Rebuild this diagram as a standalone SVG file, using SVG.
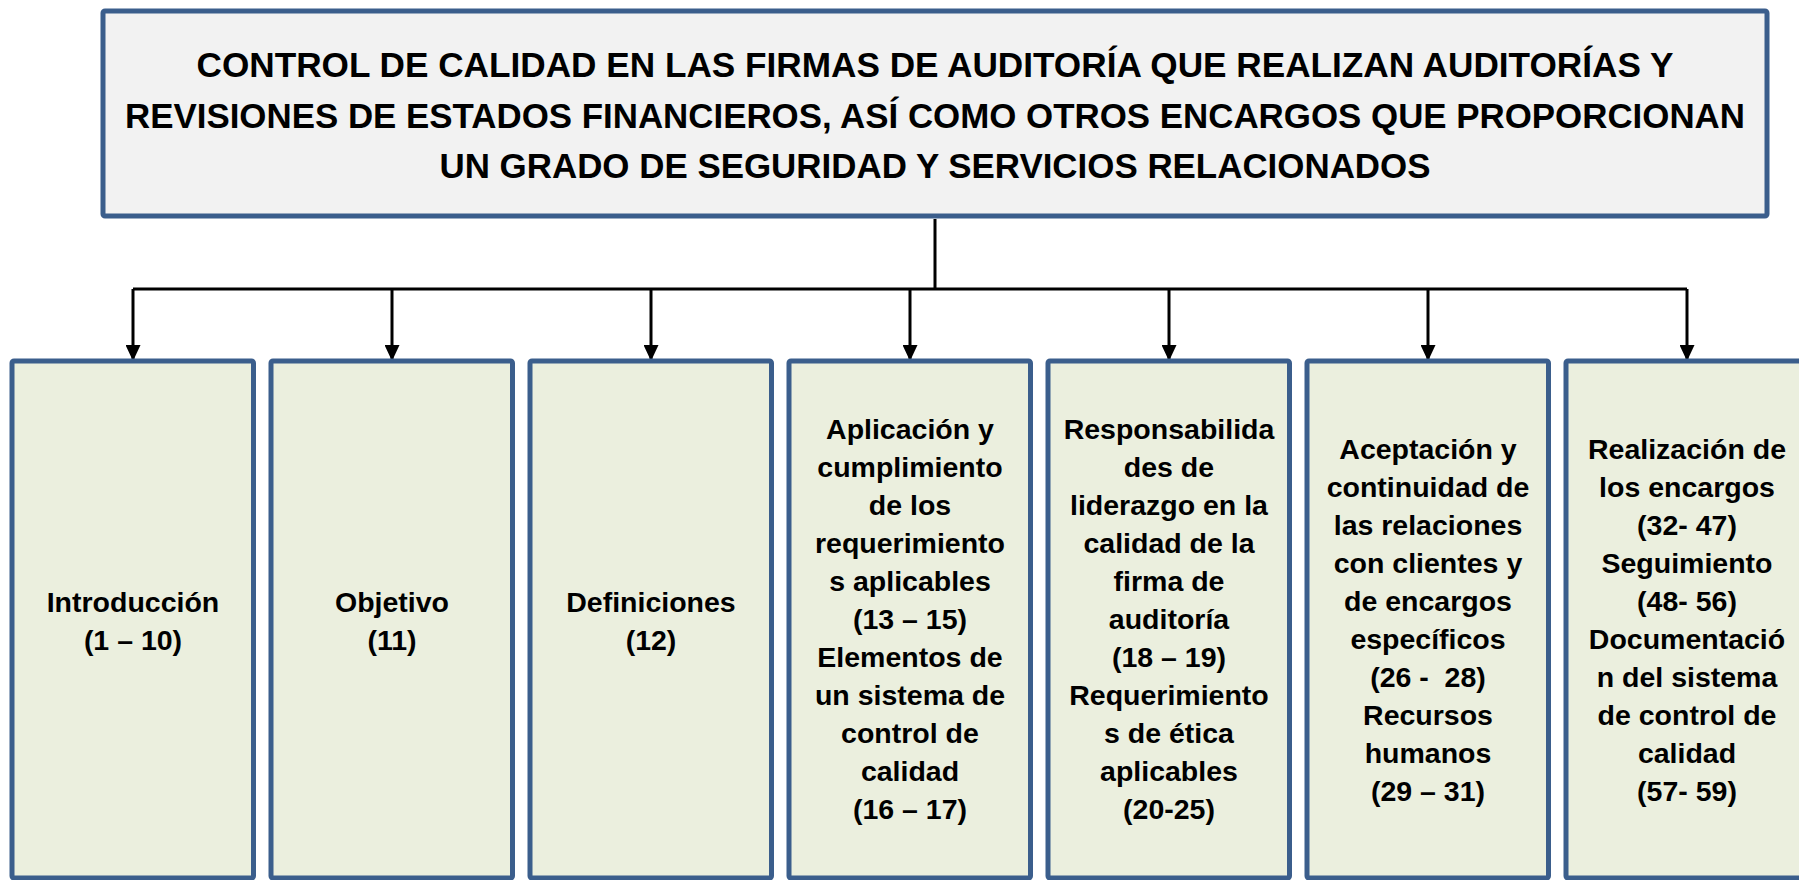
<svg xmlns="http://www.w3.org/2000/svg" width="1799" height="880" viewBox="0 0 1799 880">
<defs>
<style>
.title{fill:#F2F2F2;stroke:#3B5E8C;stroke-width:5}
.box{fill:#EBEFDE;stroke:#3B5E8C;stroke-width:5}
.tt{font-family:"Liberation Sans",Arial,sans-serif;font-weight:bold;font-size:35.5px;fill:#000;text-anchor:middle}
.bt{font-family:"Liberation Sans",Arial,sans-serif;font-weight:bold;font-size:28.5px;fill:#000;text-anchor:middle;white-space:pre}
.conn{stroke:#000;stroke-width:3;fill:none}
</style>
<marker id="arr" markerUnits="userSpaceOnUse" markerWidth="16" markerHeight="15" refX="16" refY="7.5" orient="auto">
<path d="M0,0 L16,7.5 L0,15 z" fill="#000"/>
</marker>
</defs>
<rect width="1799" height="880" fill="#FFFFFF"/>
<g id="connectors">
<path class="conn" d="M935,219 V289 M133,289 H1687"/>
<path class="conn" marker-end="url(#arr)" d="M133,289 V361"/>
<path class="conn" marker-end="url(#arr)" d="M392,289 V361"/>
<path class="conn" marker-end="url(#arr)" d="M651,289 V361"/>
<path class="conn" marker-end="url(#arr)" d="M910,289 V361"/>
<path class="conn" marker-end="url(#arr)" d="M1169,289 V361"/>
<path class="conn" marker-end="url(#arr)" d="M1428,289 V361"/>
<path class="conn" marker-end="url(#arr)" d="M1687,289 V361"/>
</g>
<g id="title">
<rect class="title" x="103" y="11" width="1664" height="205" rx="2"/>
<text class="tt" x="935" y="77" textLength="1477" lengthAdjust="spacingAndGlyphs">CONTROL DE CALIDAD EN LAS FIRMAS DE AUDITORÍA QUE REALIZAN AUDITORÍAS Y</text>
<text class="tt" x="935" y="128" textLength="1620" lengthAdjust="spacingAndGlyphs">REVISIONES DE ESTADOS FINANCIEROS, ASÍ COMO OTROS ENCARGOS QUE PROPORCIONAN</text>
<text class="tt" x="935" y="178" textLength="991" lengthAdjust="spacingAndGlyphs">UN GRADO DE SEGURIDAD Y SERVICIOS RELACIONADOS</text>
</g>
<g id="introduccion">
<rect class="box" x="12" y="361" width="241.5" height="517" rx="2"/>
<text class="bt" x="133" y="612">Introducción</text>
<text class="bt" x="133" y="650">(1 – 10)</text>
</g>
<g id="objetivo">
<rect class="box" x="271" y="361" width="241.5" height="517" rx="2"/>
<text class="bt" x="392" y="612">Objetivo</text>
<text class="bt" x="392" y="650">(11)</text>
</g>
<g id="definiciones">
<rect class="box" x="530" y="361" width="241.5" height="517" rx="2"/>
<text class="bt" x="651" y="612">Definiciones</text>
<text class="bt" x="651" y="650">(12)</text>
</g>
<g id="aplicacion">
<rect class="box" x="789" y="361" width="241.5" height="517" rx="2"/>
<text class="bt" x="910" y="439">Aplicación y</text>
<text class="bt" x="910" y="477">cumplimiento</text>
<text class="bt" x="910" y="515">de los</text>
<text class="bt" x="910" y="553">requerimiento</text>
<text class="bt" x="910" y="591">s aplicables</text>
<text class="bt" x="910" y="629">(13 – 15)</text>
<text class="bt" x="910" y="667">Elementos de</text>
<text class="bt" x="910" y="705">un sistema de</text>
<text class="bt" x="910" y="743">control de</text>
<text class="bt" x="910" y="781">calidad</text>
<text class="bt" x="910" y="819">(16 – 17)</text>
</g>
<g id="responsabilidades">
<rect class="box" x="1048" y="361" width="241.5" height="517" rx="2"/>
<text class="bt" x="1169" y="439">Responsabilida</text>
<text class="bt" x="1169" y="477">des de</text>
<text class="bt" x="1169" y="515">liderazgo en la</text>
<text class="bt" x="1169" y="553">calidad de la</text>
<text class="bt" x="1169" y="591">firma de</text>
<text class="bt" x="1169" y="629">auditoría</text>
<text class="bt" x="1169" y="667">(18 – 19)</text>
<text class="bt" x="1169" y="705">Requerimiento</text>
<text class="bt" x="1169" y="743">s de ética</text>
<text class="bt" x="1169" y="781">aplicables</text>
<text class="bt" x="1169" y="819">(20-25)</text>
</g>
<g id="aceptacion">
<rect class="box" x="1307" y="361" width="241.5" height="517" rx="2"/>
<text class="bt" x="1428" y="459">Aceptación y</text>
<text class="bt" x="1428" y="497">continuidad de</text>
<text class="bt" x="1428" y="535">las relaciones</text>
<text class="bt" x="1428" y="573">con clientes y</text>
<text class="bt" x="1428" y="611">de encargos</text>
<text class="bt" x="1428" y="649">específicos</text>
<text class="bt" x="1428" y="687">(26 -  28)</text>
<text class="bt" x="1428" y="725">Recursos</text>
<text class="bt" x="1428" y="763">humanos</text>
<text class="bt" x="1428" y="801">(29 – 31)</text>
</g>
<g id="realizacion">
<rect class="box" x="1566" y="361" width="241.5" height="517" rx="2"/>
<text class="bt" x="1687" y="459">Realización de</text>
<text class="bt" x="1687" y="497">los encargos</text>
<text class="bt" x="1687" y="535">(32- 47)</text>
<text class="bt" x="1687" y="573">Seguimiento</text>
<text class="bt" x="1687" y="611">(48- 56)</text>
<text class="bt" x="1687" y="649">Documentació</text>
<text class="bt" x="1687" y="687">n del sistema</text>
<text class="bt" x="1687" y="725">de control de</text>
<text class="bt" x="1687" y="763">calidad</text>
<text class="bt" x="1687" y="801">(57- 59)</text>
</g>
</svg>
